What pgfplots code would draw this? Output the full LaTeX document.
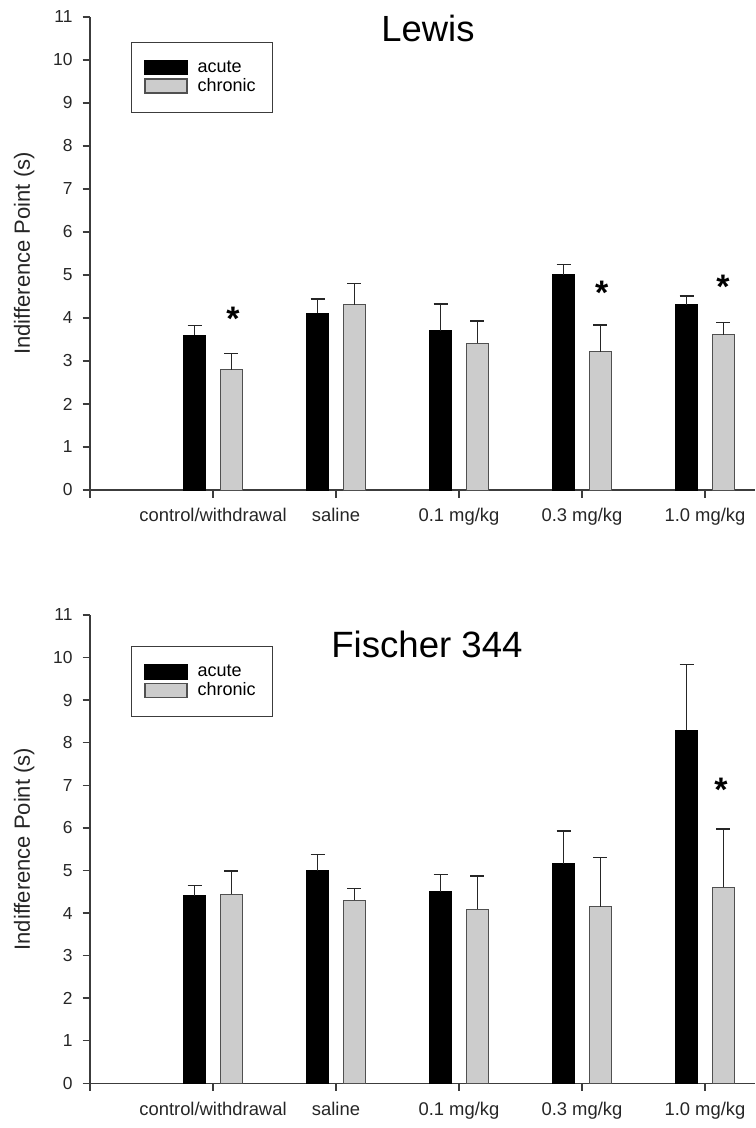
\documentclass[border=0pt]{standalone}
\usepackage{pgfplots}
\usepackage{pgfplotstable}
\pgfplotsset{compat=1.18}
\usepackage{fontspec}
\setmainfont{Liberation Sans}
\definecolor{chron}{HTML}{CCCCCC}
\definecolor{edgegray}{HTML}{505050}
\definecolor{axgray}{HTML}{3C3C3C}

\pgfplotstableread{
x acute aerr chronic cerr
1 3.60 0.23 2.80 0.38
2 4.11 0.33 4.31 0.49
3 3.70 0.63 3.41 0.52
4 5.00 0.25 3.22 0.62
5 4.31 0.20 3.61 0.29
}\lewis
\pgfplotstableread{
x acute aerr chronic cerr
1 4.40 0.25 4.44 0.55
2 4.99 0.38 4.30 0.27
3 4.50 0.41 4.09 0.78
4 5.16 0.77 4.15 1.16
5 8.29 1.55 4.60 1.37
}\fischer

\pgfplotsset{
 panel/.style={
  scale only axis, width=332.5pt, xmin=0, xmax=5.407, ymin=0, ymax=11,
  axis lines*=left, axis line style={axgray, line width=0.7pt},
  tick align=outside, major tick length=3.75pt, tick style={axgray, line width=0.7pt},
  xtick={0,1,2,3,4,5},
  xticklabels={,control/withdrawal,saline,0.1 mg/kg,0.3 mg/kg,1.0 mg/kg},
  ytick={0,1,2,3,4,5,6,7,8,9,10,11},
  /pgf/number format/assume math mode=true,
  yticklabel style={font=\fontsize{8.7}{10}\selectfont, color=black!85, xshift=-1.5pt},
  xticklabel style={font=\fontsize{9.2}{11}\selectfont, color=black!85, yshift=-2pt},
  ylabel={Indifference Point (s)},
  ylabel style={font=\fontsize{11}{13}\selectfont, at={(axis description cs:-0.099,0.5)}, anchor=center, color=black!85},
  ybar, bar width=0.183,
  legend image code/.code={\draw[##1,/tikz/line width=0.6pt] (0pt,-3.5pt) rectangle (21pt,3.5pt);},
  legend cell align=left,
  clip=false,
 },
 acute/.style={bar shift=-0.15, fill=black, draw=black, line width=0.5pt,
   error bars/.cd, y dir=plus, y explicit,
   error bar style={black!85, line width=0.7pt},
   error mark options={black!85, line width=0.7pt, mark size=3.5pt, rotate=90}},
 chronic/.style={bar shift=0.15, fill=chron, draw=edgegray, line width=0.5pt,
   error bars/.cd, y dir=plus, y explicit,
   error bar style={black!85, line width=0.7pt},
   error mark options={black!85, line width=0.7pt, mark size=3.5pt, rotate=90}},
 lstyle/.style={legend style={at={(axis description cs:0.0612,#1)}, anchor=north west,
   draw=axgray, line width=0.6pt, font=\fontsize{9}{10}\selectfont,
   inner xsep=6.5pt, inner ysep=8.5pt, row sep=0.3pt, column sep=3pt,
   nodes={inner ysep=0.6pt}}},
}

\begin{document}
\begin{tikzpicture}
\path[use as bounding box] (0,0) rectangle (377.5pt,-564pt);

\begin{axis}[panel, lstyle=0.948, at={(45pt,-245pt)}, anchor=south west, height=236.5pt]
\addplot[acute] table[x=x, y=acute, y error=aerr] {\lewis};
\addlegendentry{acute}
\addplot[chronic] table[x=x, y=chronic, y error=cerr] {\lewis};
\addlegendentry{chronic}
\node[anchor=base, font=\fontsize{18.2}{20}\selectfont] at (axis cs:2.748,10.44) {Lewis};
\node[anchor=base, font=\bfseries\fontsize{17}{18}\selectfont] at (axis cs:1.163,3.72) {*};
\node[anchor=base, font=\bfseries\fontsize{17}{18}\selectfont] at (axis cs:4.16,4.32) {*};
\node[anchor=base, font=\bfseries\fontsize{17}{18}\selectfont] at (axis cs:5.146,4.46) {*};
\end{axis}

\begin{axis}[panel, lstyle=0.934, at={(45pt,-541.65pt)}, anchor=south west, height=234.15pt]
\addplot[acute] table[x=x, y=acute, y error=aerr] {\fischer};
\addlegendentry{acute}
\addplot[chronic] table[x=x, y=chronic, y error=cerr] {\fischer};
\addlegendentry{chronic}
\node[anchor=base, font=\fontsize{18.3}{20}\selectfont] at (axis cs:2.74,10.01) {Fischer 344};
\node[anchor=base, font=\bfseries\fontsize{17}{18}\selectfont] at (axis cs:5.13,6.63) {*};
\end{axis}
\end{tikzpicture}
\end{document}
